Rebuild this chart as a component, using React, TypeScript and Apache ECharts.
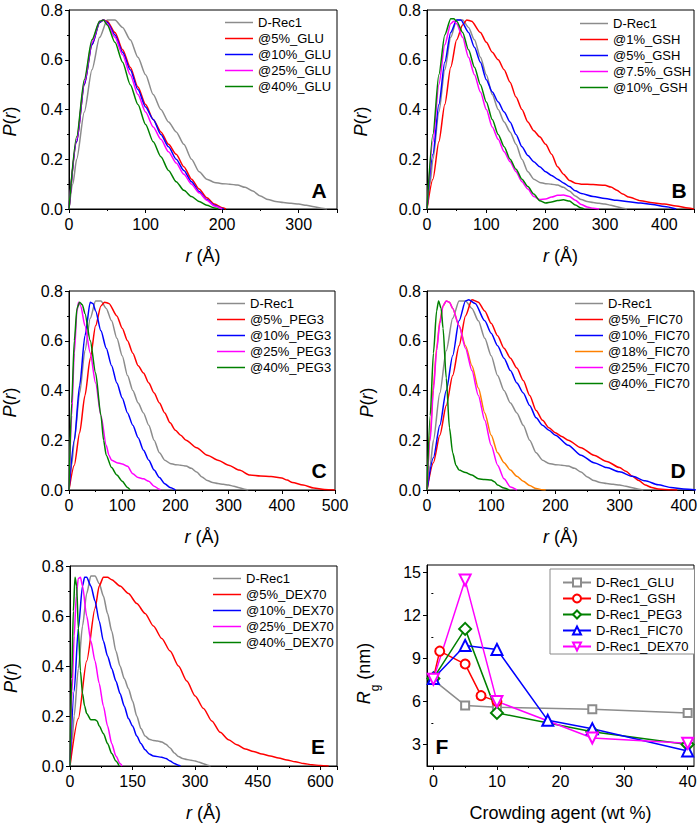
import React, { useEffect, useRef } from "react";
import * as echarts from "echarts";

const FONT = "'Liberation Sans', Arial, Helvetica, sans-serif";

// Reference curve (panels A-E)
const dRec1 = [[0,0],[5,0.1],[10,0.2],[20,0.39],[30,0.56],[40,0.69],[50,0.76],[60,0.76],[70,0.73],[80,0.68],[90,0.61],[100,0.54],[110,0.46],[120,0.4],[130,0.35],[140,0.31],[150,0.26],[160,0.2],[170,0.15],[180,0.12],[190,0.107],[200,0.102],[210,0.1],[220,0.096],[230,0.087],[240,0.072],[250,0.052],[260,0.038],[270,0.03],[280,0.026],[290,0.023],[300,0.02],[310,0.015],[320,0.009],[330,0.003],[337,0]];

// Panel A - GLU
const glu5 = [[0,0],[10,0.27],[20,0.5],[30,0.66],[40,0.75],[45,0.76],[50,0.755],[60,0.71],[70,0.64],[80,0.57],[90,0.49],[100,0.42],[110,0.36],[120,0.31],[130,0.26],[140,0.22],[150,0.17],[160,0.12],[170,0.08],[180,0.045],[190,0.02],[200,0.005],[205,0]];
const glu10 = [[0,0],[10,0.27],[20,0.5],[30,0.66],[40,0.75],[45,0.76],[50,0.75],[60,0.7],[70,0.63],[80,0.56],[90,0.48],[100,0.41],[110,0.36],[120,0.3],[130,0.25],[140,0.2],[150,0.155],[160,0.11],[170,0.07],[180,0.038],[190,0.015],[200,0.002],[202,0]];
const glu25 = [[0,0],[10,0.28],[20,0.51],[30,0.67],[40,0.755],[45,0.76],[50,0.745],[60,0.69],[70,0.62],[80,0.54],[90,0.46],[100,0.39],[110,0.33],[120,0.28],[130,0.23],[140,0.185],[150,0.14],[160,0.1],[170,0.065],[180,0.035],[190,0.012],[200,0]];
const glu40 = [[0,0],[10,0.29],[20,0.52],[30,0.68],[40,0.755],[45,0.76],[50,0.74],[60,0.67],[70,0.59],[80,0.5],[90,0.42],[100,0.34],[110,0.27],[120,0.21],[130,0.155],[140,0.11],[150,0.075],[160,0.05],[170,0.03],[180,0.015],[190,0.004],[195,0]];

// Panel B - GSH
const gsh1 = [[0,0],[10,0.12],[20,0.27],[30,0.42],[40,0.57],[50,0.68],[60,0.74],[67,0.76],[75,0.755],[90,0.71],[100,0.67],[110,0.63],[120,0.6],[130,0.56],[140,0.51],[150,0.45],[160,0.4],[170,0.35],[180,0.315],[190,0.29],[200,0.26],[210,0.22],[220,0.17],[230,0.14],[240,0.115],[250,0.104],[260,0.1],[280,0.098],[300,0.095],[310,0.088],[320,0.075],[330,0.06],[340,0.048],[360,0.033],[380,0.025],[400,0.02],[420,0.012],[440,0.004],[450,0]];
const gsh5 = [[0,0],[10,0.22],[20,0.42],[30,0.59],[40,0.71],[50,0.76],[57,0.76],[70,0.71],[80,0.65],[90,0.59],[100,0.52],[110,0.47],[120,0.43],[130,0.39],[140,0.35],[150,0.3],[160,0.25],[170,0.215],[180,0.19],[190,0.17],[200,0.15],[210,0.135],[220,0.12],[230,0.105],[240,0.09],[250,0.073],[260,0.062],[280,0.05],[300,0.042],[320,0.035],[340,0.029],[360,0.024],[380,0.018],[400,0.01],[420,0]];
const gsh75 = [[0,0],[10,0.27],[20,0.5],[30,0.66],[40,0.745],[45,0.755],[50,0.745],[60,0.69],[70,0.61],[80,0.54],[90,0.47],[100,0.4],[110,0.33],[120,0.28],[130,0.23],[140,0.19],[150,0.15],[160,0.11],[170,0.08],[180,0.05],[190,0.038],[200,0.04],[210,0.048],[220,0.055],[230,0.056],[240,0.05],[250,0.035],[260,0.018],[270,0.008],[280,0.003],[290,0]];
const gsh10 = [[0,0],[10,0.3],[20,0.54],[30,0.7],[40,0.765],[45,0.765],[50,0.755],[60,0.71],[70,0.64],[80,0.57],[90,0.5],[100,0.43],[110,0.36],[120,0.3],[130,0.25],[140,0.2],[150,0.16],[160,0.12],[170,0.09],[180,0.06],[190,0.033],[200,0.024],[210,0.028],[220,0.034],[230,0.037],[240,0.032],[250,0.016],[260,0.004],[265,0]];

// Panel C - PEG3
const peg5 = [[0,0],[10,0.1],[20,0.23],[30,0.38],[40,0.53],[50,0.66],[60,0.74],[67,0.755],[75,0.75],[90,0.7],[100,0.65],[110,0.6],[120,0.55],[130,0.5],[140,0.47],[150,0.43],[160,0.39],[170,0.35],[180,0.31],[190,0.27],[200,0.24],[210,0.22],[220,0.2],[240,0.17],[260,0.14],[280,0.12],[300,0.1],[320,0.08],[340,0.06],[360,0.056],[380,0.054],[400,0.048],[410,0.04],[420,0.03],[440,0.02],[460,0.008],[480,0.002],[500,0]];
const peg10 = [[0,0],[10,0.2],[20,0.42],[30,0.62],[40,0.755],[45,0.75],[50,0.72],[60,0.64],[70,0.57],[80,0.5],[90,0.43],[100,0.37],[110,0.31],[120,0.26],[130,0.21],[140,0.16],[150,0.12],[160,0.08],[170,0.05],[180,0.025],[190,0.01],[200,0]];
const peg25 = [[0,0],[5,0.3],[10,0.55],[15,0.72],[18,0.755],[22,0.74],[30,0.66],[40,0.55],[50,0.43],[60,0.3],[70,0.18],[75,0.14],[80,0.12],[90,0.11],[100,0.105],[110,0.095],[120,0.065],[130,0.05],[140,0.045],[150,0.035],[160,0.015],[170,0.003],[172,0]];
const peg40 = [[0,0],[5,0.35],[10,0.6],[15,0.73],[20,0.755],[25,0.745],[30,0.71],[40,0.6],[50,0.47],[60,0.3],[65,0.2],[70,0.14],[80,0.09],[90,0.06],[100,0.035],[110,0.01],[115,0]];

// Panel D - FIC70
const fic5 = [[0,0],[10,0.11],[20,0.22],[30,0.34],[40,0.46],[50,0.58],[60,0.7],[70,0.765],[80,0.755],[90,0.72],[100,0.67],[110,0.62],[120,0.57],[130,0.53],[140,0.49],[150,0.44],[160,0.38],[170,0.32],[180,0.28],[190,0.25],[200,0.23],[210,0.215],[220,0.2],[240,0.17],[260,0.14],[280,0.115],[300,0.09],[310,0.075],[320,0.055],[330,0.038],[340,0.02],[350,0.01],[360,0.004],[380,0.001],[390,0]];
const fic10 = [[0,0],[10,0.13],[20,0.26],[30,0.4],[40,0.54],[50,0.68],[60,0.76],[65,0.765],[75,0.75],[90,0.68],[100,0.63],[110,0.58],[120,0.53],[130,0.48],[140,0.43],[150,0.39],[160,0.34],[170,0.29],[180,0.26],[190,0.24],[200,0.22],[220,0.18],[240,0.14],[260,0.11],[280,0.09],[300,0.073],[320,0.055],[340,0.037],[360,0.021],[380,0.01],[400,0.004],[420,0]];
const fic18 = [[0,0],[5,0.22],[10,0.42],[15,0.57],[20,0.68],[25,0.74],[30,0.76],[35,0.755],[40,0.73],[50,0.66],[60,0.58],[70,0.5],[80,0.41],[90,0.31],[100,0.22],[110,0.15],[120,0.11],[130,0.08],[140,0.055],[150,0.035],[160,0.018],[170,0.006],[180,0.001],[185,0]];
const fic25 = [[0,0],[5,0.2],[10,0.4],[15,0.56],[20,0.67],[25,0.74],[30,0.76],[35,0.755],[40,0.73],[50,0.66],[60,0.57],[70,0.48],[80,0.38],[90,0.28],[100,0.18],[110,0.1],[120,0.045],[130,0.012],[140,0]];
const fic40 = [[0,0],[5,0.3],[10,0.55],[15,0.72],[18,0.76],[22,0.73],[25,0.65],[30,0.45],[35,0.25],[40,0.15],[45,0.1],[50,0.08],[60,0.07],[70,0.06],[80,0.045],[90,0.042],[100,0.04],[105,0.033],[110,0.02],[120,0.008],[128,0]];

// Panel E - DEX70
const dex5 = [[0,0],[20,0.19],[40,0.42],[60,0.63],[70,0.72],[80,0.755],[90,0.755],[100,0.745],[120,0.72],[140,0.69],[160,0.65],[180,0.61],[200,0.56],[220,0.51],[240,0.46],[260,0.4],[280,0.34],[300,0.28],[320,0.23],[340,0.18],[360,0.135],[380,0.105],[400,0.085],[420,0.068],[440,0.058],[460,0.048],[480,0.04],[500,0.032],[520,0.024],[540,0.017],[560,0.01],[580,0.005],[600,0.002],[620,0]];
const dex10 = [[0,0],[10,0.3],[20,0.55],[30,0.72],[35,0.755],[40,0.755],[50,0.72],[60,0.66],[70,0.58],[80,0.5],[90,0.44],[100,0.39],[110,0.34],[120,0.29],[130,0.24],[140,0.19],[150,0.16],[160,0.12],[170,0.09],[180,0.065],[190,0.048],[200,0.04],[220,0.035],[230,0.03],[240,0.02],[250,0.01],[260,0.003],[265,0]];
const dex25 = [[0,0],[5,0.3],[10,0.52],[15,0.68],[20,0.75],[25,0.755],[30,0.72],[40,0.6],[50,0.5],[60,0.42],[70,0.33],[80,0.24],[90,0.16],[100,0.09],[110,0.04],[120,0.01],[125,0]];
const dex40 = [[0,0],[4,0.35],[8,0.62],[12,0.755],[16,0.72],[20,0.55],[25,0.38],[30,0.29],[35,0.24],[40,0.21],[50,0.185],[60,0.185],[65,0.18],[70,0.16],[80,0.13],[90,0.09],[100,0.05],[110,0.02],[118,0]];

// Panel F - Rg vs crowding agent (wt %)
const gluX = [0, 5, 10, 25, 40];
const gluRg = [7.5, 5.72, 5.6, 5.45, 5.2];
const gshX = [0, 1, 5, 7.5, 10];
const gshRg = [7.6, 9.5, 8.6, 6.4, 6.0];
const pegX = [0, 5, 10, 25, 40];
const pegRg = [7.6, 11.05, 5.2, 3.88, 3.0];
const ficX = [0, 5, 10, 18, 25, 40];
const ficRg = [7.6, 9.9, 9.62, 4.68, 4.1, 2.55];
const dexX = [0, 5, 10, 25, 40];
const dexRg = [7.55, 14.45, 6.0, 3.45, 3.08];

const fTicks = [3, 6, 9, 12, 15];
const fMinorTicks = [4.5, 7.5, 10.5, 13.5];
const fXTicks = [0, 10, 20, 30, 40];
const fXMinorTicks = [5, 15, 25, 35];

const GRAY = "#8c8c8c";
const RED = "#ff0000";
const BLUE = "#0000ff";
const MAG = "#ff00ff";
const GREEN = "#008000";
const ORANGE = "#ff8000";

const zip = (xs: number[], ys: number[]) => xs.map((x, i) => [x, ys[i]]);

const grids = [
  { left: 69, top: 10, width: 268, height: 199 },
  { left: 427, top: 10, width: 267, height: 199 },
  { left: 69, top: 291, width: 266, height: 199 },
  { left: 427, top: 291, width: 267, height: 199 },
  { left: 70, top: 566, width: 267, height: 200 },
  { left: 427, top: 565, width: 267, height: 201 },
];

const xMax = [350, 450, 500, 416, 640];
const xInt = [100, 100, 100, 100, 150];
const yNameGap = [50, 57, 50, 51, 50];

const tickLabel = { color: "#000", fontSize: 16, fontFamily: FONT };
const nameStyle = {
  color: "#000",
  fontSize: 18,
  fontFamily: FONT,
  rich: { i: { fontStyle: "italic", fontSize: 18, fontFamily: FONT, color: "#000" } },
};
const axisLine = { show: true, onZero: false, lineStyle: { color: "#000", width: 1 } };

function curve(name: string, data: number[][], color: string, idx: number) {
  return {
    type: "line",
    name,
    data,
    xAxisIndex: idx,
    yAxisIndex: idx,
    symbol: "none",
    showSymbol: false,
    smooth: 0.25,
    smoothMonotone: "x",
    lineStyle: { color, width: 1.5 },
    itemStyle: { color },
    silent: true,
  };
}

function marked(name: string, data: number[][], color: string, symbol: string, size: number, rotate = 0) {
  return {
    type: "line",
    name,
    data,
    xAxisIndex: 5,
    yAxisIndex: 5,
    symbol,
    symbolSize: size,
    symbolRotate: rotate,
    showSymbol: true,
    lineStyle: { color, width: 1.5 },
    itemStyle: { color, borderColor: color, borderWidth: 1.5 },
    silent: true,
  };
}

const panelA = [["D-Rec1", dRec1, GRAY], ["@5%_GLU", glu5, RED], ["@10%_GLU", glu10, BLUE], ["@25%_GLU", glu25, MAG], ["@40%_GLU", glu40, GREEN]];
const panelB = [["D-Rec1", dRec1, GRAY], ["@1%_GSH", gsh1, RED], ["@5%_GSH", gsh5, BLUE], ["@7.5%_GSH", gsh75, MAG], ["@10%_GSH", gsh10, GREEN]];
const panelC = [["D-Rec1", dRec1, GRAY], ["@5%_PEG3", peg5, RED], ["@10%_PEG3", peg10, BLUE], ["@25%_PEG3", peg25, MAG], ["@40%_PEG3", peg40, GREEN]];
const panelD = [["D-Rec1", dRec1, GRAY], ["@5%_FIC70", fic5, RED], ["@10%_FIC70", fic10, BLUE], ["@18%_FIC70", fic18, ORANGE], ["@25%_FIC70", fic25, MAG], ["@40%_FIC70", fic40, GREEN]];
const panelE = [["D-Rec1", dRec1, GRAY], ["@5%_DEX70", dex5, RED], ["@10%_DEX70", dex10, BLUE], ["@25%_DEX70", dex25, MAG], ["@40%_DEX70", dex40, GREEN]];
const curvePanels = [panelA, panelB, panelC, panelD, panelE];
const legendPos = [
  { left: 225, top: 16 },
  { left: 580, top: 17 },
  { left: 217, top: 297 },
  { left: 575, top: 297 },
  { left: 213, top: 572 },
];
const letters = [
  { t: "A", x: 319, y: 190 },
  { t: "B", x: 679, y: 190 },
  { t: "C", x: 319, y: 470 },
  { t: "D", x: 678, y: 470 },
  { t: "E", x: 318, y: 746 },
  { t: "F", x: 442, y: 746 },
];

export default function App() {
  const ref = useRef<HTMLDivElement>(null);
  useEffect(() => {
    if (!ref.current) return;
    const chart = echarts.init(ref.current, undefined, { renderer: "svg" });

    const xAxis: any[] = [];
    const yAxis: any[] = [];
    const series: any[] = [];
    const legend: any[] = [];

    for (let i = 0; i < 5; i++) {
      xAxis.push({
        type: "value",
        gridIndex: i,
        min: 0,
        max: xMax[i],
        interval: xInt[i],
        name: "{i|r} (Å)",
        nameLocation: "middle",
        nameGap: 38,
        nameTextStyle: nameStyle,
        axisLine,
        axisTick: { show: true, inside: false, length: 4, lineStyle: { color: "#000" } },
        minorTick: { show: true, splitNumber: 2, length: 2, lineStyle: { color: "#000" } },
        axisLabel: { ...tickLabel, margin: 7, showMaxLabel: xMax[i] % xInt[i] === 0 },
        splitLine: { show: false },
        minorSplitLine: { show: false },
      });
      yAxis.push({
        type: "value",
        gridIndex: i,
        min: 0,
        max: 0.8,
        interval: 0.2,
        name: "{i|P}({i|r})",
        nameLocation: "middle",
        nameGap: yNameGap[i],
        nameTextStyle: { ...nameStyle, padding: [0, 24, 0, 0] },
        axisLine,
        axisTick: { show: true, inside: false, length: 4, lineStyle: { color: "#000" } },
        minorTick: { show: true, splitNumber: 2, length: 2, lineStyle: { color: "#000" } },
        axisLabel: { ...tickLabel, margin: 6, formatter: (v: number) => v.toFixed(1) },
        splitLine: { show: false },
        minorSplitLine: { show: false },
      });
      const p = curvePanels[i];
      p.forEach((s: any) => series.push(curve(s[0], s[1], s[2], i)));
      legend.push({
        ...legendPos[i],
        orient: "vertical",
        padding: 0,
        icon: "rect",
        itemWidth: 28,
        itemHeight: 1.5,
        itemGap: 3,
        selectedMode: false,
        textStyle: { color: "#000", fontSize: 13, fontFamily: FONT },
        data: p.map((s: any) => s[0]),
      });
    }

    // Panel F axes
    xAxis.push({
      type: "value",
      gridIndex: 5,
      min: -1,
      max: 41,
      name: "Crowding agent (wt %)",
      nameLocation: "middle",
      nameGap: 38,
      nameTextStyle: nameStyle,
      axisLine,
      axisTick: { show: true, inside: false, length: 4, customValues: fXTicks, lineStyle: { color: "#000" } },
      axisLabel: { ...tickLabel, margin: 7, customValues: fXTicks },
      splitLine: { show: false },
    });
    yAxis.push({
      type: "value",
      gridIndex: 5,
      min: 1.5,
      max: 15.5,
      name: "{i|R}{s|g}{n| (nm)}",
      nameLocation: "middle",
      nameGap: 46,
      nameTextStyle: {
        ...nameStyle,
        padding: [0, 16, 0, 0],
        rich: {
          i: { fontStyle: "italic", fontSize: 18, fontFamily: FONT, color: "#000", lineHeight: 26, verticalAlign: "top" },
          n: { fontSize: 18, fontFamily: FONT, color: "#000", lineHeight: 26, verticalAlign: "top" },
          s: { fontSize: 12, fontFamily: FONT, color: "#000", lineHeight: 26, verticalAlign: "bottom" },
        },
      },
      axisLine,
      axisTick: { show: true, inside: false, length: 4, customValues: fTicks, lineStyle: { color: "#000" } },
      axisLabel: { ...tickLabel, margin: 6, customValues: fTicks },
      splitLine: { show: false },
    });
    // minor ticks for F
    xAxis.push({
      type: "value",
      gridIndex: 5,
      min: -1,
      max: 41,
      position: "bottom",
      axisLine: { show: false },
      axisTick: { show: true, inside: false, length: 2, customValues: fXMinorTicks, lineStyle: { color: "#000" } },
      axisLabel: { show: false },
      splitLine: { show: false },
    });
    yAxis.push({
      type: "value",
      gridIndex: 5,
      min: 1.5,
      max: 15.5,
      position: "left",
      axisLine: { show: false },
      axisTick: { show: true, inside: false, length: 2, customValues: fMinorTicks, lineStyle: { color: "#000" } },
      axisLabel: { show: false },
      splitLine: { show: false },
    });

    series.push(marked("D-Rec1_GLU", zip(gluX, gluRg), GRAY, "emptyRect", 8));
    series.push(marked("D-Rec1_GSH", zip(gshX, gshRg), RED, "emptyCircle", 9));
    series.push(marked("D-Rec1_PEG3", zip(pegX, pegRg), GREEN, "emptyDiamond", 12));
    series.push(marked("D-Rec1_FIC70", zip(ficX, ficRg), BLUE, "emptyTriangle", 11));
    series.push(marked("D-Rec1_DEX70", zip(dexX, dexRg), MAG, "emptyTriangle", 11, 180));

    legend.push({
      left: 550,
      top: 569,
      orient: "vertical",
      padding: [7, 6, 1, 12],
      borderColor: "#8a8a8a",
      borderWidth: 1,
      backgroundColor: "#fff",
      itemWidth: 28,
      itemHeight: 10,
      itemGap: 3,
      selectedMode: false,
      textStyle: { color: "#000", fontSize: 13, fontFamily: FONT },
      data: ["D-Rec1_GLU", "D-Rec1_GSH", "D-Rec1_PEG3", "D-Rec1_FIC70", "D-Rec1_DEX70"],
    });

    const option: any = {
      animation: false,
      backgroundColor: "#fff",
      grid: grids.map((g) => ({
        ...g,
        show: true,
        borderColor: "#000",
        borderWidth: 1,
        backgroundColor: "transparent",
        containLabel: false,
        outerBoundsMode: "none",
      })),
      xAxis,
      yAxis,
      legend,
      series,
      graphic: letters.map((l) => ({
        type: "text",
        x: l.x,
        y: l.y,
        z: 100,
        style: {
          text: l.t,
          fill: "#000",
          font: `bold 21px ${FONT}`,
          textAlign: "center",
          textVerticalAlign: "middle",
        },
      })),
    };
    chart.setOption(option);
    return () => chart.dispose();
  }, []);
  return (
    <div
      ref={ref}
      style={{ position: "absolute", left: 0, top: 0, width: 700, height: 824, background: "#fff" }}
    />
  );
}
